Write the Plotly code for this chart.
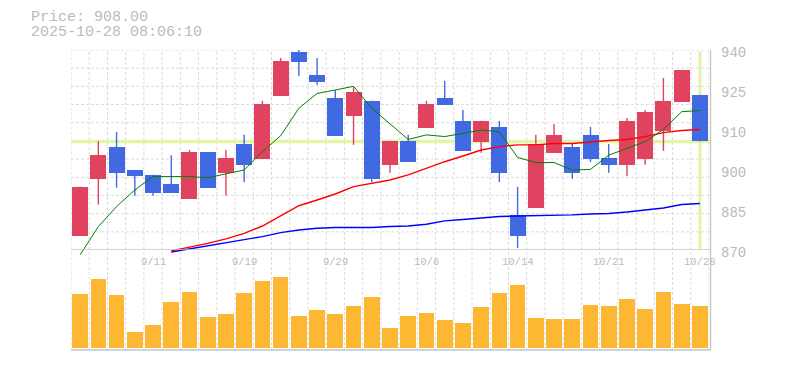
import plotly.graph_objects as go

# ---------------- data ----------------
dates = ["9/5", "9/8", "9/9", "9/10", "9/11", "9/12", "9/16", "9/17", "9/18", "9/19",
         "9/22", "9/24", "9/25", "9/26", "9/29", "9/30", "10/1", "10/2", "10/3", "10/6",
         "10/7", "10/8", "10/9", "10/10", "10/14", "10/15", "10/16", "10/17", "10/20", "10/21",
         "10/22", "10/23", "10/24", "10/27", "10/28"]

open_ = [874.9, 894.9, 906.0, 898.0, 896.3, 893.1, 887.9, 904.3, 897.0, 907.1,
         901.9, 923.9, 939.3, 931.3, 923.2, 916.9, 922.2, 899.8, 908.2, 912.7,
         923.2, 915.2, 907.8, 913.1, 882.3, 884.7, 904.0, 906.0, 910.3, 902.2,
         899.8, 901.9, 911.7, 921.8, 924.3]
high = [892.2, 908.1, 911.3, 898.0, 896.3, 903.2, 905.0, 904.3, 905.0, 910.3,
        922.2, 937.2, 940.0, 937.2, 926.0, 927.0, 922.2, 908.2, 910.3, 922.2,
        929.2, 919.0, 915.2, 915.2, 892.1, 910.3, 914.1, 907.1, 913.1, 907.1,
        916.2, 919.0, 930.2, 933.0, 924.3]
low = [874.9, 885.9, 891.8, 889.0, 889.0, 890.0, 887.9, 891.7, 889.0, 893.8,
       901.9, 923.9, 930.9, 927.8, 909.9, 906.8, 893.8, 897.0, 900.8, 912.7,
       920.8, 904.7, 904.0, 893.8, 870.7, 884.7, 904.0, 894.9, 900.8, 897.0,
       895.9, 899.8, 904.7, 921.8, 908.0]
close = [892.2, 903.2, 897.0, 895.9, 890.0, 890.0, 904.3, 891.7, 902.2, 899.8,
         921.1, 936.2, 935.8, 928.8, 909.9, 925.3, 894.9, 908.2, 900.8, 921.1,
         920.8, 904.7, 915.2, 897.0, 874.9, 907.1, 910.3, 897.0, 901.9, 899.8,
         915.2, 918.3, 922.2, 933.0, 908.0]

volume = [54000, 69000, 53000, 16000, 23000, 46000, 56000, 31000, 34000, 55000,
          67000, 71000, 32000, 38000, 34000, 42000, 51000, 20000, 32000, 35000,
          28000, 25000, 41000, 55000, 63000, 30000, 29000, 29000, 43000, 42000,
          49000, 39000, 56000, 44000, 42000]

ma_short = [868.3, 878.2, 885.2, 891.0, 895.7, 895.7, 895.7, 895.3, 896.6, 898.0,
            904.4, 910.0, 919.6, 924.8, 926.0, 927.3, 919.6, 914.3, 908.7, 910.3,
            909.7, 910.8, 912.0, 911.4, 902.4, 900.6, 900.6, 898.0, 898.2, 903.2,
            905.6, 907.9, 912.2, 918.4, 918.8]
ma_mid = [None, None, None, None, None, 869.7, 870.9, 872.3, 873.9, 875.8,
          878.4, 882.0, 885.5, 887.5, 889.6, 892.2, 893.3, 894.5, 896.3, 898.6,
          900.9, 902.9, 905.0, 906.2, 906.8, 906.8, 907.3, 907.3, 907.9, 908.3,
          908.7, 909.7, 911.1, 911.8, 912.2]
ma_long = [None, None, None, None, None, 869.3, 870.4, 871.4, 872.6, 873.7,
           874.7, 876.1, 877.0, 877.6, 877.9, 877.9, 877.9, 878.2, 878.4, 879.0,
           880.2, 880.7, 881.2, 881.7, 881.9, 882.0, 882.3, 882.3, 882.6, 882.8,
           883.3, 884.0, 884.7, 885.9, 886.3]

x_tick_labels = ["9/11", "9/19", "9/29", "10/6", "10/14", "10/21", "10/28"]
y_tick_labels = ["870", "885", "900", "910", "925", "940"]
title_time = "2025-10-28 08:06:10"

# ---------------- style ----------------
UP = "#e0435f"
DOWN = "#4169e1"
VOL = "#feb733"
TXT = "#bbbbbb"
GRID = "#dcdcdc"
AXIS = "#c4c4c4"
MARK = "#e4f4a6"
FONT = "Liberation Mono"

Y_MIN, Y_MAX = 870, 940
n = len(dates)
idx = list(range(n))

fig = go.Figure()

# wicks
for is_up, col in ((True, UP), (False, DOWN)):
    wx, wy = [], []
    for i in idx:
        if (close[i] >= open_[i]) == is_up:
            wx += [i, i, None]
            wy += [low[i], high[i], None]
    fig.add_trace(go.Scatter(x=wx, y=wy, mode="lines", line=dict(color=col, width=1.4),
                             hoverinfo="skip", showlegend=False, xaxis="x", yaxis="y"))

# bodies
fig.add_trace(go.Bar(
    x=idx,
    base=[min(o, c) for o, c in zip(open_, close)],
    y=[abs(c - o) for o, c in zip(open_, close)],
    width=0.878,
    marker=dict(color=[UP if c >= o else DOWN for o, c in zip(open_, close)], line=dict(width=0)),
    showlegend=False, xaxis="x", yaxis="y"))

# volume
fig.add_trace(go.Bar(x=idx, y=volume, width=0.86, marker=dict(color=VOL, line=dict(width=0)),
                     showlegend=False, xaxis="x", yaxis="y2"))

# moving averages
for vals, col, w in ((ma_long, "#0000ff", 1.4), (ma_mid, "#ff0000", 1.4), (ma_short, "#008000", 1.0)):
    fig.add_trace(go.Scatter(x=idx, y=vals, mode="lines", line=dict(color=col, width=w),
                             showlegend=False, xaxis="x", yaxis="y3", connectgaps=False))

# ---------------- grid / axis shapes ----------------
shapes = []
for k in range(n + 1):
    shapes.append(dict(type="line", xref="x", yref="paper", x0=k - 0.5, x1=k - 0.5, y0=0, y1=1,
                       line=dict(color=GRID, width=1, dash="3px,2px"), layer="below"))
for j in range(1, 12):
    yv = Y_MIN + j * (Y_MAX - Y_MIN) / 11
    shapes.append(dict(type="line", xref="paper", yref="y", x0=0, x1=1, y0=yv, y1=yv,
                       line=dict(color=GRID, width=1, dash="3px,2px"), layer="below"))
# current price marker lines
shapes.append(dict(type="line", xref="paper", yref="y", x0=0, x1=1.002, y0=close[-1], y1=close[-1],
                   line=dict(color=MARK, width=3.5), layer="below"))
shapes.append(dict(type="line", xref="x", yref="y", x0=n - 1, x1=n - 1, y0=Y_MIN + 0.4, y1=Y_MAX - 0.4,
                   line=dict(color=MARK, width=3), layer="below"))
# axis lines
shapes.append(dict(type="line", xref="paper", yref="y", x0=0, x1=1.0024, y0=Y_MIN, y1=Y_MIN,
                   line=dict(color=AXIS, width=1.3)))
shapes.append(dict(type="line", xref="paper", yref="paper", x0=0, x1=1.0024, y0=0, y1=0,
                   line=dict(color=AXIS, width=1.3)))
shapes.append(dict(type="line", xref="paper", yref="paper", x0=1.0024, x1=1.0024, y0=0, y1=1,
                   line=dict(color=AXIS, width=1.3)))

# ---------------- text ----------------
ann = []
ann.append(dict(text="Price: %.2f" % close[-1], xref="paper", yref="paper", x=0, y=1.1077,
                xanchor="left", yanchor="middle", xshift=-42, showarrow=False,
                font=dict(family=FONT, size=15, color=TXT)))
ann.append(dict(text=title_time, xref="paper", yref="paper", x=0, y=1.0573,
                xanchor="left", yanchor="middle", xshift=-42, showarrow=False,
                font=dict(family=FONT, size=15, color=TXT)))
for i, lab in enumerate(y_tick_labels):
    yv = Y_MIN + i * (Y_MAX - Y_MIN) / (len(y_tick_labels) - 1)
    ann.append(dict(text=lab, xref="paper", yref="y", x=1, y=yv, xanchor="left", yanchor="middle",
                    xshift=10, yshift=-2.5, showarrow=False,
                    font=dict(family=FONT, size=14, color=TXT)))
for lab in x_tick_labels:
    ann.append(dict(text=lab, xref="x", yref="paper", x=dates.index(lab), y=88 / 300,
                    xanchor="center", yanchor="middle", showarrow=False,
                    font=dict(family=FONT, size=10.5, color=TXT)))

fig.update_layout(
    width=785, height=370,
    margin=dict(l=71, r=76, t=50, b=20),
    paper_bgcolor="white", plot_bgcolor="rgba(0,0,0,0)",
    barmode="overlay", bargap=0,
    showlegend=False,
    xaxis=dict(domain=[0, 1], range=[-0.5, n - 0.5], visible=False, anchor="y"),
    yaxis=dict(domain=[1 / 3, 1], range=[Y_MIN, Y_MAX], visible=False, anchor="x"),
    yaxis2=dict(domain=[2 / 300, 1 / 3], range=[0, 98000], visible=False, anchor="x"),
    yaxis3=dict(domain=[88 / 300, 1], range=[Y_MIN - 12 * (Y_MAX - Y_MIN) / 200, Y_MAX],
                visible=False, anchor="x"),
    shapes=shapes,
    annotations=ann,
    hovermode=False,
)

fig.write_html("out.html", config={"displayModeBar": False, "staticPlot": True},
               post_script="document.body.style.margin='0';document.body.style.overflow='hidden';")
